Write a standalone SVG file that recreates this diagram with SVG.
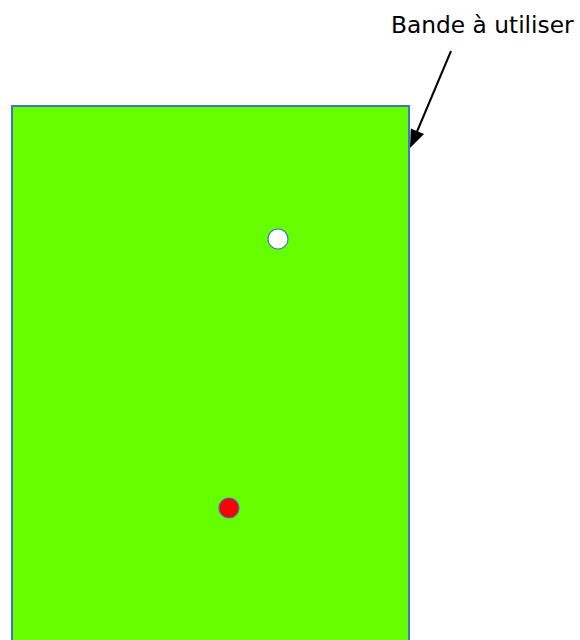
<svg xmlns="http://www.w3.org/2000/svg" width="580" height="640" viewBox="0 0 580 640">
<style>
.lbl{font-family:"DejaVu Sans",sans-serif;font-size:23.3px;fill:#000}
.dot{stroke:#4472c4;stroke-width:1.2}
</style>
<rect width="580" height="640" fill="#fff"/>
<g id="band">
<rect x="12" y="106" width="397" height="560" fill="#66ff00" stroke="#4472c4" stroke-width="2"/>
</g>
<g id="white-dot"><circle class="dot" cx="278" cy="239" r="10" fill="#fff"/></g>
<g id="red-dot"><circle class="dot" cx="229" cy="508" r="10" fill="#ff0000"/></g>
<g id="label"><text class="lbl" x="391" y="33">Bande à utiliser</text></g>
<g id="connectors">
<line x1="451" y1="51" x2="416" y2="134" stroke="#000" stroke-width="2"/>
<path d="M410,148 L410.8,128.5 L424,134 Z" fill="#000"/>
</g>
</svg>
